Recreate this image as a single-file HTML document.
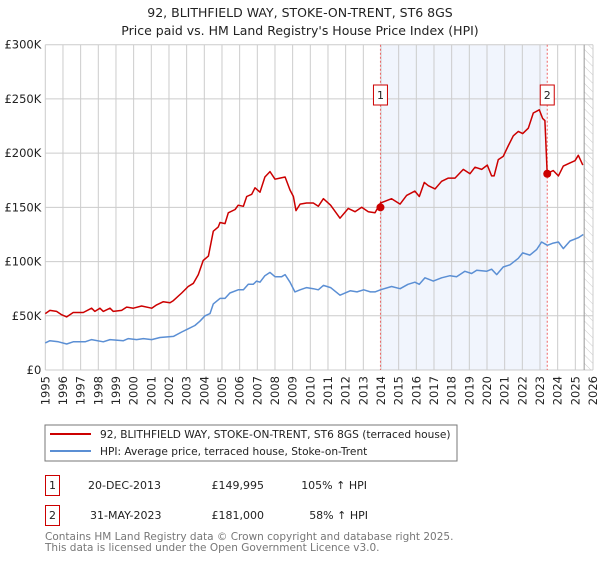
<!DOCTYPE html>
<html><head><meta charset="utf-8"><style>
body{margin:0;background:#fff;font-family:"DejaVu Sans","Liberation Sans",sans-serif;}
svg text{font-family:"DejaVu Sans","Liberation Sans",sans-serif;}
</style></head><body>
<svg id="chart" width="600" height="560" viewBox="0 0 600 560" xmlns="http://www.w3.org/2000/svg">
<defs><pattern id="hatch" width="6" height="6" patternUnits="userSpaceOnUse" patternTransform="rotate(-45)"><line x1="0" y1="0" x2="0" y2="6" stroke="#ccc" stroke-width="1"/></pattern></defs>
<text x="300" y="17" text-anchor="middle" font-size="12.5" fill="#222">92, BLITHFIELD WAY, STOKE-ON-TRENT, ST6 8GS</text>
<text x="300" y="35" text-anchor="middle" font-size="12.5" fill="#222">Price paid vs. HM Land Registry's House Price Index (HPI)</text>
<g id="grid"></g><g id="series"></g><g id="axes"></g>
<rect x="45" y="425" width="412" height="36" fill="#fff" stroke="#777"/>
<line x1="50" y1="434" x2="91" y2="434" stroke="#cc0000" stroke-width="2"/>
<text x="100" y="438" font-size="10.6" fill="#222">92, BLITHFIELD WAY, STOKE-ON-TRENT, ST6 8GS (terraced house)</text>
<line x1="50" y1="451" x2="91" y2="451" stroke="#5b8fd4" stroke-width="2"/>
<text x="100" y="455" font-size="10.6" fill="#222">HPI: Average price, terraced house, Stoke-on-Trent</text>
<rect x="45.5" y="475.5" width="14" height="20" fill="#fff" stroke="#cc0000"/>
<text x="52.5" y="489" text-anchor="middle" font-size="11" fill="#222">1</text>
<text x="88" y="489" font-size="11" fill="#222">20-DEC-2013</text>
<text x="264" y="489" text-anchor="end" font-size="11" fill="#222">£149,995</text>
<text x="367" y="489" text-anchor="end" font-size="11" fill="#222">105% ↑ HPI</text>
<rect x="45.5" y="505.5" width="14" height="20" fill="#fff" stroke="#cc0000"/>
<text x="52.5" y="519" text-anchor="middle" font-size="11" fill="#222">2</text>
<text x="90" y="519" font-size="11" fill="#222">31-MAY-2023</text>
<text x="264" y="519" text-anchor="end" font-size="11" fill="#222">£181,000</text>
<text x="368" y="519" text-anchor="end" font-size="11" fill="#222">58% ↑ HPI</text>
<text x="45" y="540" font-size="10.5" fill="#777">Contains HM Land Registry data © Crown copyright and database right 2025.</text>
<text x="45" y="551" font-size="10.5" fill="#777">This data is licensed under the Open Government Licence v3.0.</text>
</svg>
<script>
const redYears=[1995,1995.26,1995.64,1995.92,1996.21,1996.58,1997.15,1997.62,1997.81,1998.09,1998.28,1998.66,1998.85,1999.32,1999.6,1999.98,2000.45,2001.02,2001.3,2001.68,2002.06,2002.25,2002.72,2003.09,2003.38,2003.66,2003.94,2004.23,2004.51,2004.79,2004.89,2005.17,2005.36,2005.74,2005.92,2006.21,2006.4,2006.68,2006.87,2007.15,2007.43,2007.72,2008,2008.28,2008.57,2008.85,2009.04,2009.19,2009.42,2009.79,2010.17,2010.45,2010.74,2011.15,2011.68,2012.15,2012.53,2012.91,2013.28,2013.66,2013.97,2014.6,2015.08,2015.45,2015.92,2016.17,2016.45,2016.68,2017.06,2017.43,2017.81,2018.19,2018.66,2019.04,2019.32,2019.7,2020.02,2020.26,2020.4,2020.64,2020.92,2021.21,2021.49,2021.77,2022.02,2022.34,2022.62,2022.96,2023.15,2023.28,2023.41,2023.75,2024.04,2024.32,2024.7,2024.98,2025.17,2025.42];
const redValues=[52,55,54,51,49,53,53,57,54,57,54,57,54,55,58,57,59,57,60,63,62,64,71,77,80,88,101,105,128,132,136,135,145,148,152,151,160,162,168,164,178,183,176,177,178,166,160,147,153,154,154,151,158,152,140,149,146,150,146,145,154,158,153,161,165,160,173,170,167,174,177,177,185,181,187,185,189,179,179,194,197,207,216,220,218,223,237,240,232,230,181,184,179,188,191,193,198,189];
const hpiYears=[1995,1995.26,1995.74,1996.21,1996.58,1997.25,1997.62,1998.28,1998.66,1999.42,1999.7,2000.17,2000.55,2001.02,2001.49,2002.25,2002.72,2003.09,2003.47,2003.75,2004.04,2004.32,2004.51,2004.89,2005.17,2005.45,2005.92,2006.21,2006.49,2006.77,2006.96,2007.15,2007.43,2007.72,2008,2008.38,2008.57,2008.85,2009.13,2009.42,2009.79,2010.17,2010.45,2010.74,2011.15,2011.68,2012.26,2012.64,2013.02,2013.4,2013.66,2013.97,2014.6,2015.08,2015.53,2015.92,2016.17,2016.49,2016.96,2017.43,2017.91,2018.28,2018.75,2019.13,2019.42,2019.98,2020.26,2020.55,2020.92,2021.3,2021.77,2022.02,2022.43,2022.81,2023.09,2023.42,2023.75,2024.04,2024.32,2024.7,2025.17,2025.45];
const hpiValues=[25,27,26,24,26,26,28,26,28,27,29,28,29,28,30,31,35,38,41,45,50,52,61,66,66,71,74,74,79,79,82,81,87,90,86,86,88,81,72,74,76,75,74,78,76,69,73,72,74,72,72,74,77,75,79,81,79,85,82,85,87,86,91,89,92,91,93,88,95,97,103,108,106,111,118,115,117,118,112,119,122,125,120];
const saleYears=[2013.97,2023.41];
const saleValues=[149.995,181];
const yTicks=[0,50,100,150,200,250,300];
const yTickLabels=["£0","£50K","£100K","£150K","£200K","£250K","£300K"];
const xTicks=[1995,1996,1997,1998,1999,2000,2001,2002,2003,2004,2005,2006,2007,2008,2009,2010,2011,2012,2013,2014,2015,2016,2017,2018,2019,2020,2021,2022,2023,2024,2025,2026];
const NS="http://www.w3.org/2000/svg";
const L=45.3,R=593,T=44.7,B=370;
function xs(y){return L+(y-1995)*(R-L)/31;}
function ys(v){return B-v*(B-T)/300;}
function mk(tag,attrs,parent){const e=document.createElementNS(NS,tag);for(const k in attrs)e.setAttribute(k,attrs[k]);parent.appendChild(e);return e;}
const grid=document.getElementById('grid'),ser=document.getElementById('series'),ax=document.getElementById('axes');
const shade=mk('rect',{x:xs(saleYears[0]),y:T,width:xs(saleYears[1])-xs(saleYears[0]),height:B-T,fill:'#eef3fc',opacity:0.8},grid);


const hat=mk('rect',{x:xs(2025.5),y:T,width:R-xs(2025.5),height:B-T,fill:'url(#hatch)'},grid);


yTicks.forEach((v,i)=>{
 const g=mk('line',{x1:L,x2:R,y1:ys(v),y2:ys(v),stroke:'#cccccc','stroke-width':1},grid);
 
 
 const t=mk('text',{x:L-4,y:ys(v)+4,'text-anchor':'end','font-size':11.5,fill:'#222'},ax);
 t.textContent=yTickLabels[i];
 
 
});
xTicks.forEach(yr=>{
 const g=mk('line',{x1:xs(yr),x2:xs(yr),y1:T,y2:B,stroke:'#cccccc','stroke-width':1},grid);
 
 
 const t=mk('text',{x:0,y:0,'text-anchor':'end','font-size':11.5,fill:'#222',transform:`translate(${xs(yr)+4},${B+6}) rotate(-90)`},ax);
 t.textContent=yr;
 
 
});
const fl=mk('line',{x1:xs(2025.5),x2:xs(2025.5),y1:T,y2:B,stroke:'#999','stroke-width':1},grid);


saleYears.forEach((yr,i)=>{
 const l=mk('line',{x1:xs(yr),x2:xs(yr),y1:T,y2:B,stroke:'#ee6666','stroke-width':1,'stroke-dasharray':'2,2'},ser);
 
 
 const bx=mk('rect',{x:xs(yr)-7,y:85,width:14,height:20,fill:'#fff',stroke:'#cc0000'},ser);
 
 
 const t=mk('text',{x:xs(yr),y:99,'text-anchor':'middle','font-size':11,fill:'#222'},ser);
 t.textContent=String(i+1);
 
 
});
function path(xa,va){return xa.map((y,i)=>(i?'L':'M')+xs(y).toFixed(1)+','+ys(va[i]).toFixed(1)).join('');}
const hp=mk('path',{d:path(hpiYears,hpiValues),fill:'none',stroke:'#5b8fd4','stroke-width':1.5,'stroke-linejoin':'round'},ser);


const rp=mk('path',{d:path(redYears,redValues),fill:'none',stroke:'#cc0000','stroke-width':1.5,'stroke-linejoin':'round'},ser);


saleYears.forEach((yr,i)=>{
 const c=mk('circle',{cx:xs(yr),cy:ys(saleValues[i]),r:4,fill:'#cc0000'},ser);
 
 
});
</script>
</body></html>
